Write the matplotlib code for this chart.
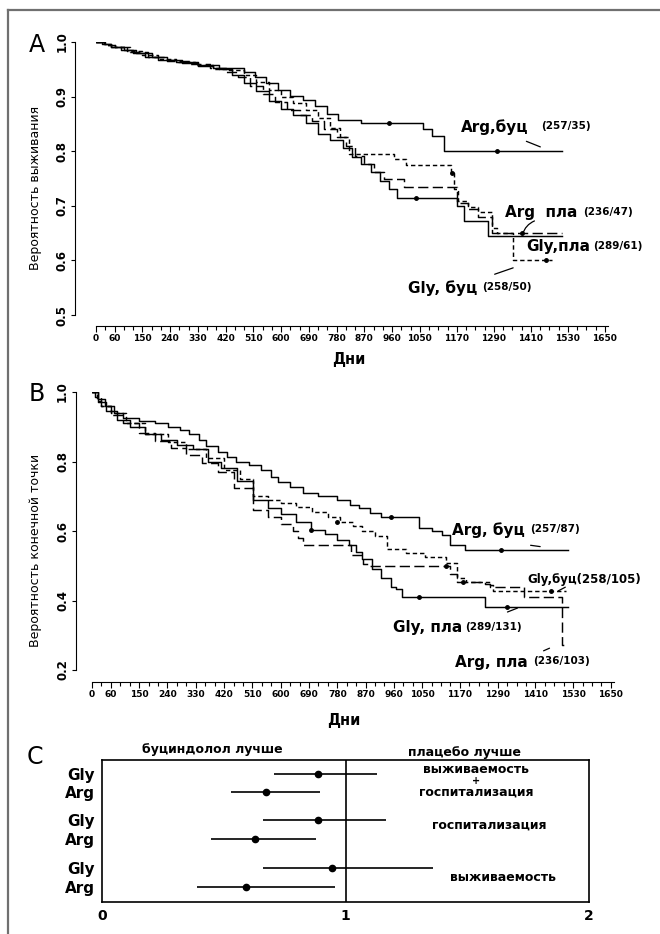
import matplotlib
matplotlib.use('Agg')
import matplotlib.pyplot as plt
from matplotlib.lines import Line2D

plt.rcParams['font.family'] = ['DejaVu Sans']

# x axis of the survival panels (days)
day_ticks = [0, 60, 150, 240, 330, 420, 510, 600, 690, 780, 870, 960, 1050,
             1170, 1290, 1410, 1530, 1650]

# Panel A: survival probability, (day, probability) steps
a_arg_buc = [(0, 1.0), (25, 0.997), (50, 0.99), (90, 0.985), (130, 0.979), (180, 0.973),
             (230, 0.967), (280, 0.961), (330, 0.956), (380, 0.952), (450, 0.952),
             (480, 0.945), (515, 0.935), (550, 0.925), (590, 0.913), (630, 0.902),
             (670, 0.893), (710, 0.882), (750, 0.868), (785, 0.858), (860, 0.852),
             (1060, 0.84), (1090, 0.827), (1128, 0.80), (1510, 0.80)]
a_gly_buc = [(0, 1.0), (30, 0.995), (60, 0.99), (100, 0.983), (150, 0.976), (200, 0.969),
             (260, 0.963), (320, 0.957), (380, 0.951), (430, 0.948), (480, 0.94),
             (520, 0.926), (560, 0.913), (600, 0.9), (640, 0.889), (680, 0.875),
             (720, 0.86), (760, 0.842), (790, 0.826), (820, 0.795), (965, 0.785),
             (1005, 0.775), (1150, 0.76), (1160, 0.73), (1175, 0.708), (1205, 0.698),
             (1240, 0.688), (1285, 0.66), (1300, 0.65), (1352, 0.60), (1477, 0.60)]
a_gly_pla = [(0, 1.0), (20, 0.997), (50, 0.99), (80, 0.985), (120, 0.979), (160, 0.972),
             (200, 0.967), (260, 0.963), (330, 0.958), (400, 0.95), (440, 0.94),
             (480, 0.925), (520, 0.91), (560, 0.892), (600, 0.877), (640, 0.866),
             (680, 0.851), (720, 0.832), (760, 0.82), (800, 0.806), (830, 0.79),
             (860, 0.776), (890, 0.761), (920, 0.746), (950, 0.731), (975, 0.715),
             (1150, 0.715), (1172, 0.70), (1192, 0.672), (1271, 0.645), (1510, 0.645)]
a_arg_pla = [(0, 1.0), (25, 0.995), (60, 0.99), (110, 0.981), (170, 0.972), (230, 0.966),
             (300, 0.96), (370, 0.953), (420, 0.945), (460, 0.935), (500, 0.92),
             (540, 0.905), (580, 0.89), (620, 0.876), (660, 0.866), (700, 0.855),
             (740, 0.84), (780, 0.826), (810, 0.81), (840, 0.792), (870, 0.776),
             (900, 0.762), (935, 0.75), (1000, 0.735), (1165, 0.735), (1172, 0.705),
             (1205, 0.695), (1240, 0.68), (1285, 0.65), (1510, 0.65)]
a_censored = [(951, 0.852), (1299, 0.80), (1155, 0.76), (1460, 0.60), (1037, 0.715),
              (1381, 0.65)]

# Panel B: probability of end point
b_arg_buc = [(0, 1.0), (20, 0.98), (40, 0.96), (70, 0.94), (100, 0.925), (150, 0.916),
             (200, 0.91), (243, 0.90), (280, 0.89), (310, 0.88), (340, 0.862),
             (363, 0.845), (400, 0.826), (430, 0.812), (457, 0.80), (500, 0.79),
             (537, 0.775), (570, 0.756), (591, 0.74), (630, 0.726), (671, 0.71),
             (720, 0.70), (778, 0.69), (820, 0.676), (850, 0.665), (884, 0.652),
             (920, 0.64), (1040, 0.61), (1080, 0.60), (1113, 0.588), (1139, 0.56),
             (1186, 0.545), (1514, 0.545)]
b_gly_buc = [(0, 1.0), (15, 0.975), (30, 0.96), (60, 0.94), (108, 0.91), (170, 0.88),
             (243, 0.855), (300, 0.835), (363, 0.81), (420, 0.775), (470, 0.75),
             (512, 0.70), (560, 0.69), (600, 0.68), (650, 0.668), (700, 0.656),
             (750, 0.64), (790, 0.626), (830, 0.614), (860, 0.60), (900, 0.585),
             (938, 0.548), (1000, 0.538), (1060, 0.525), (1126, 0.508), (1160, 0.465),
             (1190, 0.452), (1266, 0.445), (1275, 0.428), (1507, 0.428)]
b_gly_pla = [(0, 1.0), (20, 0.97), (45, 0.945), (80, 0.92), (120, 0.90), (170, 0.88),
             (220, 0.862), (270, 0.848), (320, 0.835), (370, 0.80), (410, 0.78),
             (460, 0.745), (512, 0.69), (560, 0.665), (600, 0.65), (650, 0.625),
             (696, 0.603), (740, 0.59), (780, 0.575), (818, 0.56), (840, 0.54),
             (858, 0.52), (890, 0.49), (920, 0.465), (950, 0.44), (966, 0.433),
             (985, 0.41), (1246, 0.41), (1250, 0.38), (1514, 0.38)]
b_arg_pla = [(0, 1.0), (10, 0.985), (30, 0.96), (60, 0.935), (100, 0.91), (150, 0.882),
             (200, 0.858), (250, 0.838), (300, 0.818), (350, 0.795), (400, 0.77),
             (450, 0.725), (512, 0.66), (560, 0.64), (600, 0.62), (640, 0.60),
             (655, 0.58), (671, 0.56), (783, 0.56), (823, 0.53), (863, 0.504),
             (884, 0.50), (1133, 0.50), (1140, 0.475), (1160, 0.452), (1250, 0.448),
             (1266, 0.44), (1373, 0.41), (1494, 0.272), (1510, 0.272)]
b_censored = [(951, 0.64), (1300, 0.545), (778, 0.626), (1179, 0.452), (1460, 0.428),
              (696, 0.603), (1040, 0.41), (1321, 0.38), (1126, 0.50)]

# Panel C: hazard ratios with confidence intervals
c_labels = ['Gly', 'Arg', 'Gly', 'Arg', 'Gly', 'Arg']
c_ratio = [0.886, 0.673, 0.886, 0.630, 0.943, 0.592]
c_low = [0.705, 0.528, 0.661, 0.449, 0.661, 0.390]
c_high = [1.128, 0.895, 1.168, 0.878, 1.361, 0.955]

SHORT = (0, (3, 2))
LONG = (0, (7, 3))

fig = plt.figure(figsize=(6.6, 9.34), dpi=100)


def km(ax, pts, ls):
    t, s = zip(*pts)
    ax.step(t, s, where='post', color='black', lw=1.05, linestyle=ls)


def style_km(ax, ylim, yticks, left_out, bottom_out):
    ax.set_xlim(0, 1660)
    ax.set_ylim(*ylim)
    ax.spines['top'].set_visible(False)
    ax.spines['right'].set_visible(False)
    ax.spines['left'].set_position(('outward', left_out))
    ax.spines['bottom'].set_position(('outward', bottom_out))
    ax.spines['left'].set_bounds(*ylim)
    ax.spines['bottom'].set_bounds(0, 1660)
    ax.set_xticks(day_ticks)
    ax.set_xticks(range(0, 1660, 30), minor=True)
    ax.set_xticklabels([str(d) for d in day_ticks], fontsize=6.5, fontweight='bold')
    ax.tick_params(axis='x', which='major', length=4, width=0.8, pad=1.5)
    ax.tick_params(axis='x', which='minor', length=3, width=0.8)
    ax.set_yticks(yticks)
    ax.set_yticklabels([f'{v:.1f}' for v in yticks], rotation=90, va='center',
                       fontsize=8.5, fontweight='bold')
    ax.tick_params(axis='y', length=3, pad=2)


def curve_label(ax, x, y, main, small, gap=3, size=11):
    t = ax.text(x, y, main, fontsize=size, fontweight='bold', va='center', ha='left')
    ax.annotate(small, xy=(1, 0.55), xycoords=t, xytext=(gap, 0),
                textcoords='offset points', fontsize=7.5, fontweight='bold',
                va='center', ha='left')


seg = dict(arrowstyle='-', color='black', lw=0.9)

# ---- panel A
ax_a = fig.add_axes([96 / 660, 1 - 315 / 934, 512 / 660, 273 / 934])
km(ax_a, a_arg_buc, '-')
km(ax_a, a_gly_pla, '-')
km(ax_a, a_gly_buc, SHORT)
km(ax_a, a_arg_pla, LONG)
ax_a.plot(*zip(*a_censored), 'o', color='black', ms=2.5)
style_km(ax_a, (0.5, 1.0), [0.5, 0.6, 0.7, 0.8, 0.9, 1.0], 15, 8)
ax_a.set_ylabel('Вероятность выживания', fontsize=9)
ax_a.yaxis.set_label_coords(-0.105, 0.465)
ax_a.set_xlabel('Дни', fontsize=10.5, fontweight='bold')
ax_a.xaxis.set_label_coords(0.494, -0.136)

curve_label(ax_a, 1183, 0.844, 'Arg,буц', '(257/35)', gap=9)
curve_label(ax_a, 1326, 0.687, 'Arg  пла', '(236/47)', gap=4)
curve_label(ax_a, 1394, 0.625, 'Gly,пла', '(289/61)', gap=2)
curve_label(ax_a, 1011, 0.549, 'Gly, буц', '(258/50)', gap=3.5)
ax_a.annotate('', xy=(1449, 0.806), xytext=(1387, 0.820), arrowprops=seg)
ax_a.annotate('', xy=(1381, 0.643), xytext=(1430, 0.674),
              arrowprops=dict(seg, connectionstyle='arc3,rad=0.3'))
ax_a.annotate('', xy=(1361, 0.588), xytext=(1284, 0.573), arrowprops=seg)

# ---- panel B
ax_b = fig.add_axes([92 / 660, 1 - 670 / 934, 522 / 660, 278 / 934])
km(ax_b, b_arg_buc, '-')
km(ax_b, b_gly_pla, '-')
km(ax_b, b_gly_buc, SHORT)
km(ax_b, b_arg_pla, LONG)
ax_b.plot(*zip(*b_censored), 'o', color='black', ms=2.5)
style_km(ax_b, (0.2, 1.0), [0.2, 0.4, 0.6, 0.8, 1.0], 11.5, 8.6)
ax_b.set_ylabel('Вероятность конечной точки', fontsize=9)
ax_b.yaxis.set_label_coords(-0.096, 0.43)
ax_b.set_xlabel('Дни', fontsize=10.5, fontweight='bold')
ax_b.xaxis.set_label_coords(0.483, -0.155)

curve_label(ax_b, 1145, 0.603, 'Arg, буц', '(257/87)', gap=4)
ax_b.text(1383, 0.459, 'Gly,буц(258/105)', fontsize=8.5, fontweight='bold',
          va='center', ha='left')
curve_label(ax_b, 957, 0.321, 'Gly, пла', '(289/131)', gap=2)
curve_label(ax_b, 1154, 0.223, 'Arg, пла', '(236/103)', gap=4)
ax_b.annotate('', xy=(1434, 0.554), xytext=(1386, 0.56), arrowprops=seg)
ax_b.annotate('', xy=(1475, 0.424), xytext=(1513, 0.442), arrowprops=seg)
ax_b.annotate('', xy=(1361, 0.381), xytext=(1313, 0.364), arrowprops=seg)
ax_b.annotate('', xy=(1463, 0.266), xytext=(1428, 0.252), arrowprops=seg)

# ---- panel C
rows = [6.75, 5.8, 4.35, 3.35, 1.8, 0.8]
ax_c = fig.add_axes([102 / 660, 1 - 902 / 934, 487 / 660, 142 / 934])
ax_c.hlines(rows, c_low, c_high, color='black', lw=1.2)
ax_c.plot(c_ratio, rows, 'o', color='black', ms=4.5)
ax_c.axvline(1, color='black', lw=1.2)
ax_c.set_xlim(0, 2)
ax_c.set_ylim(0, 7.5)
ax_c.set_xticks([0, 1, 2])
ax_c.set_xticklabels(['0', '1', '2'], fontsize=10, fontweight='bold')
ax_c.set_yticks(rows)
ax_c.set_yticklabels(c_labels, fontsize=11, fontweight='bold')
ax_c.tick_params(length=0, pad=5)
for sp in ax_c.spines.values():
    sp.set_linewidth(1.2)
mid = dict(fontweight='bold', ha='center', va='center', fontsize=9)
ax_c.text(1.536, 7.0, 'выживаемость', **mid)
ax_c.text(1.536, 6.4, '+', fontweight='bold', ha='center', va='center', fontsize=7)
ax_c.text(1.536, 5.82, 'госпитализация', **mid)
ax_c.text(1.589, 4.07, 'госпитализация', **mid)
ax_c.text(1.647, 1.27, 'выживаемость', **mid)
ax_c.text(0.452, 8.03, 'буциндолол лучше', **mid)
ax_c.text(1.487, 7.87, 'плацебо лучше', **mid)

# panel letters
fig.text(37 / 660, 1 - 45 / 934, 'A', fontsize=17, ha='center', va='center')
fig.text(37 / 660, 1 - 394 / 934, 'B', fontsize=17, ha='center', va='center')
fig.text(35 / 660, 1 - 757 / 934, 'C', fontsize=17, ha='center', va='center')

# scan frame
frame = dict(transform=fig.transFigure, color='#707070', lw=1.6)
fig.add_artist(Line2D([8 / 660, 1], [1 - 10 / 934, 1 - 10 / 934], **frame))
fig.add_artist(Line2D([8 / 660, 8 / 660], [0, 1 - 10 / 934], **frame))

fig.savefig('out.png', dpi=100)
